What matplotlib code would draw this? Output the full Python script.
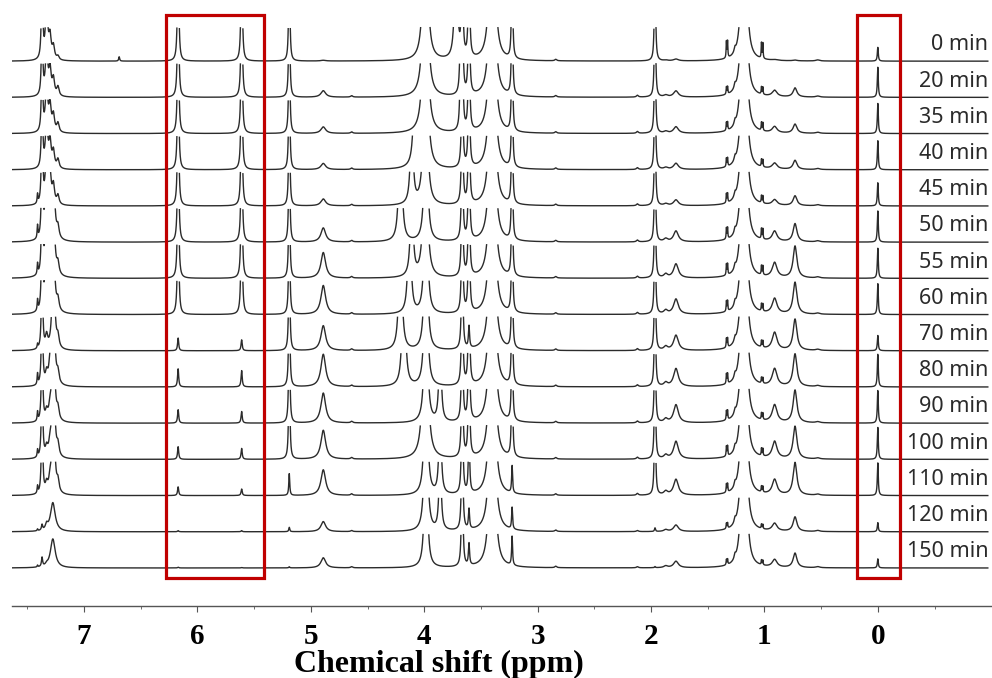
import numpy as np
import matplotlib
matplotlib.use("Agg")
import matplotlib.pyplot as plt
from matplotlib.patches import Rectangle

# time points of the stacked spectra (top to bottom)
times = ["0 min", "20 min", "35 min", "40 min", "45 min", "50 min", "55 min", "60 min",
         "70 min", "80 min", "90 min", "100 min", "110 min", "120 min", "150 min"]

# peak heights per spectrum, in units of the row spacing (values > 1 are cut off)
h_741 = [0, 0, 0, 0, 0.25, 0.35, 0.3, 0.3, 0.12, 0.3, 0.25, 0.2, 0.2, 0.05, 0.05]
h_737 = [3, 2.5, 2.5, 2.5, 3, 3, 3, 3, 3, 3, 3, 3, 3, 0.15, 0.25]
h_733 = [1.5, 1.3, 1.3, 1.3, 1.5, 2, 2, 2, 0.35, 0.3, 0.25, 0.25, 0.25, 0.15, 0.05]
h_730 = [0.6, 0.7, 0.7, 0.7, 0.8, 2, 2, 2, 0, 0.5, 0.3, 0.3, 0.3, 0, 0]
h_727 = [0.35, 0.45, 0.45, 0.45, 0.5, 2, 2, 2, 3, 3, 3, 3, 3, 0, 0]
h_723 = [0.1, 0.25, 0.25, 0.25, 0.25, 0.3, 0.3, 0.3, 0.3, 0.3, 0.3, 0.3, 0.3, 0, 0]
h_728b = [0, 0, 0, 0, 0, 0, 0, 0, 0, 0, 0, 0, 0, 0.8, 0.8]
h_669 = [0.12, 0, 0, 0, 0, 0, 0, 0, 0, 0, 0, 0, 0, 0, 0]
h_617 = [4, 4, 4, 4, 4, 4, 4, 4, 0.35, 0.5, 0.37, 0.35, 0.24, 0.03, 0.02]
h_561 = [4, 4, 4, 4, 4, 4, 4, 4, 0.3, 0.45, 0.32, 0.3, 0.18, 0.03, 0.01]
h_519 = [4, 4, 4, 4, 4, 4, 4, 4, 4, 4, 4, 4, 0.6, 0.12, 0.03]
h_489 = [0.02, 0.18, 0.18, 0.17, 0.19, 0.39, 0.71, 0.8, 0.69, 0.9, 0.83, 0.8, 0.71, 0.28, 0.28]
h_464 = [0, 0.04, 0.04, 0.04, 0.04, 0.04, 0.04, 0.04, 0.04, 0.04, 0.04, 0.04, 0.04, 0.03, 0.03]
shift_ppm = [4.12, 4.12, 4.12, 4.08, 4.11, 4.21, 4.11, 4.13, 4.21, 4.18, 4.12, 4.12, 4.12, 4.12, 4.12]
shift_h = [0, 0, 0, 4, 3, 5, 3, 4, 5, 5, 0, 0, 0, 0, 0]
h_399 = [8, 9, 9, 8, 6, 0, 6, 0, 0, 0, 0, 9, 0, 0, 0]
h_399n = [0, 0, 0, 0, 0, 6, 0, 6, 6, 6, 6, 0, 6, 6, 5]
h_386 = [0, 0, 0, 0, 0, 0, 0, 0, 0, 0, 3, 0, 3, 2.5, 0]
h_372 = [4, 0, 0, 0, 0, 0, 0, 0, 0, 0, 0, 0, 0, 0, 0]
h_368 = [0, 2, 2, 0, 0, 0, 0, 0, 0, 0, 0, 0, 0, 0, 0]
h_366 = [4, 4, 4, 4, 4, 4, 4, 4, 4, 4, 4, 4, 4, 4, 4]
h_361 = [4, 4, 4, 4, 4, 4, 4, 4, 0.6, 4, 4, 4, 2, 0.55, 0.6]
h_340 = [11, 11, 11, 11, 11, 11, 11, 11, 11, 11, 11, 11, 11, 11, 11]
h_322 = [4, 4, 4, 4, 4, 4, 4, 4, 4, 4, 4, 4, 0.75, 0.6, 0.8]
h_284 = [0.04] * 15
h_212 = [0, 0.05, 0.05, 0.05, 0.05, 0.05, 0.05, 0.05, 0.05, 0.05, 0.05, 0.05, 0.05, 0.03, 0.03]
h_197 = [4, 4, 4, 4, 4, 4, 4, 4, 4, 4, 4, 4, 4, 0.1, 0.03]
h_187 = [0.02, 0.05, 0.05, 0.05, 0.05, 0.08, 0.1, 0.1, 0.1, 0.1, 0.1, 0.1, 0.1, 0.05, 0.05]
h_178 = [0.05, 0.17, 0.18, 0.17, 0.16, 0.3, 0.39, 0.42, 0.42, 0.5, 0.5, 0.49, 0.44, 0.18, 0.18]
h_133 = [0.45, 0.2, 0.22, 0.23, 0.25, 0.3, 0.3, 0.28, 0.25, 0.27, 0.25, 0.27, 0.23, 0.15, 0.15]
h_126 = [0.12] * 15
h_118 = [14] * 15
h_102 = [0.42, 0.2, 0.22, 0.2, 0.2, 0.28, 0.25, 0.2, 0.18, 0.16, 0.18, 0.2, 0.16, 0.12, 0.13]
h_091 = [0.02, 0.17, 0.17, 0.16, 0.15, 0.28, 0.41, 0.42, 0.48, 0.48, 0.48, 0.47, 0.42, 0.21, 0.21]
h_073 = [0.02, 0.25, 0.25, 0.25, 0.27, 0.5, 0.88, 0.88, 0.86, 0.9, 0.9, 0.9, 0.9, 0.4, 0.4]
h_053 = [0.03] * 15
h_000 = [0.38, 0.83, 0.83, 0.8, 0.64, 0.86, 0.83, 0.85, 0.42, 0.9, 0.9, 0.88, 0.9, 0.25, 0.25]

# (centre ppm, half width ppm, heights)
peaks = [
    (7.41, 0.004, h_741), (7.37, 0.006, h_737), (7.33, 0.012, h_733),
    (7.30, 0.012, h_730), (7.27, 0.012, h_727), (7.23, 0.012, h_723),
    (7.275, 0.025, h_728b), (6.69, 0.005, h_669), (6.17, 0.006, h_617),
    (5.61, 0.006, h_561), (5.19, 0.005, h_519), (4.89, 0.025, h_489),
    (4.64, 0.01, h_464), (3.99, 0.015, h_399), (3.985, 0.012, h_399n),
    (3.86, 0.01, h_386), (3.72, 0.012, h_372), (3.68, 0.006, h_368),
    (3.665, 0.006, h_366), (3.605, 0.006, h_361), (3.40, 0.015, h_340),
    (3.225, 0.005, h_322), (2.84, 0.01, h_284), (2.12, 0.01, h_212),
    (1.965, 0.005, h_197), (1.87, 0.02, h_187), (1.78, 0.025, h_178),
    (1.335, 0.003, h_133), (1.325, 0.003, h_133), (1.26, 0.008, h_126),
    (1.18, 0.012, h_118), (1.026, 0.003, h_102), (1.014, 0.003, h_102),
    (0.91, 0.025, h_091), (0.73, 0.02, h_073), (0.53, 0.02, h_053),
    (0.0, 0.005, h_000),
]

CLIP = 0.93


def lorentz(x, c, w, h):
    return h * w**2 / ((x - c)**2 + w**2)


fig = plt.figure(figsize=(9.92, 6.78), dpi=100)
ax = fig.add_axes([12 / 992, 72 / 678, 980 / 992, 606 / 678])
ax.set_xlim(7.635, -1.007)
ax.set_ylim(-1.05, 15.69)

x = np.linspace(7.635, -0.97, 24000)
n = len(times)
for k in range(n):
    y = np.zeros_like(x)
    for c, w, hs in peaks:
        if hs[k] > 0:
            y += lorentz(x, c, w, hs[k])
    if shift_h[k] > 0:
        y += lorentz(x, shift_ppm[k], 0.012, shift_h[k])
    y[y > CLIP] = np.nan
    base = n - 1 - k
    ax.plot(x, base + y, color="#2b2b2b", lw=1.0)
    ax.text(-0.975, base + 0.45, times[k], ha="right", va="center",
            fontsize=15.5, color="#2a2a2a", family="Noto Sans")

# highlight boxes
for x0, x1 in [(6.277, 5.413), (0.185, -0.20)]:
    ax.add_patch(Rectangle((x1, -0.28), x0 - x1, 15.56, fill=False,
                           ec="#C00000", lw=2.3, zorder=5, clip_on=False))

for s in ["top", "left", "right"]:
    ax.spines[s].set_visible(False)
ax.spines["bottom"].set_color("#555555")
ax.spines["bottom"].set_linewidth(1.0)
ax.set_yticks([])
ax.set_xticks(range(0, 8))
ax.set_xticks(np.arange(-0.5, 7.6, 0.5), minor=True)
ax.tick_params(axis="x", which="major", length=4, color="#555555", pad=8)
ax.tick_params(axis="x", which="minor", length=2.5, color="#555555")
for lab in ax.get_xticklabels():
    lab.set_fontfamily("Liberation Serif")
    lab.set_fontweight("bold")
    lab.set_fontsize(21)
fig.text(439 / 992, 6 / 678, "Chemical shift (ppm)", ha="center", va="baseline",
         fontfamily="Liberation Serif", fontweight="bold", fontsize=23)

fig.savefig("out.png", dpi=100)
